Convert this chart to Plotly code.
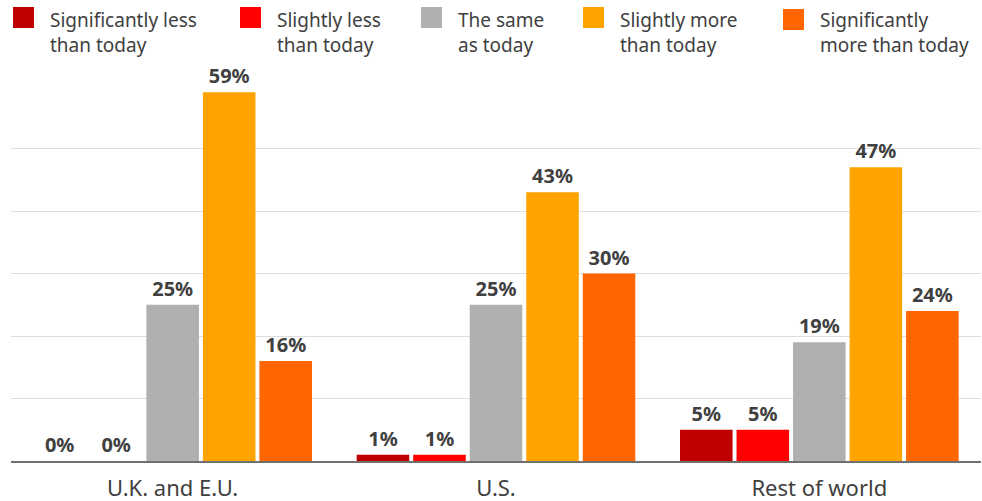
import plotly.graph_objects as go

categories = ["U.K. and E.U.", "U.S.", "Rest of world"]
series_names = [
    "Significantly less<br>than today",
    "Slightly less<br>than today",
    "The same<br>as today",
    "Slightly more<br>than today",
    "Significantly<br>more than today",
]
series_values = [
    [0, 1, 5],
    [0, 1, 5],
    [25, 25, 19],
    [59, 43, 47],
    [16, 30, 24],
]
colors = ["#bf0000", "#ff0000", "#b0b0b0", "#ffa300", "#ff6600"]

W, H = 982, 501
ml, mr, mt, mb = 11, 1, 86, 40
text_color = "#404040"
font_family = "Noto Sans"

fig = go.Figure()
for name, vals, col in zip(series_names, series_values, colors):
    fig.add_trace(go.Bar(
        x=categories, y=vals, name=name.replace("<br>", " "),
        marker=dict(color=col, line=dict(width=0)),
        text=[f"{v}%" for v in vals], textposition="outside",
        textfont=dict(family=font_family, size=20, color=text_color, weight="bold"),
        cliponaxis=False, showlegend=False,
        hovertemplate="%{x}: %{y}%<extra>" + name.replace("<br>", " ") + "</extra>",
    ))

# manual legend (swatches + labels), positions in pixels
legend_x = [13, 240, 421, 583, 783]
shapes = []
annotations = []
pw = W - ml - mr
ph = H - mt - mb
for i, (name, col) in enumerate(zip(series_names, colors)):
    x0 = legend_x[i]
    y0 = 7 if i < 4 else 9
    shapes.append(dict(type="rect", xref="paper", yref="paper",
                       x0=(x0 - ml) / pw, x1=(x0 + 21 - ml) / pw,
                       y0=1 + (mt - y0) / ph, y1=1 + (mt - y0 - 21) / ph,
                       fillcolor=col, line=dict(width=0), layer="above"))
    annotations.append(dict(xref="paper", yref="paper",
                            x=(x0 + 35 - ml) / pw, y=1 + (mt - 5) / ph,
                            xanchor="left", yanchor="top", align="left", showarrow=False,
                            text=name, font=dict(family=font_family, size=19, color=text_color)))

fig.update_layout(
    width=W, height=H,
    margin=dict(l=ml, r=mr, t=mt, b=mb, autoexpand=False),
    paper_bgcolor="white", plot_bgcolor="white",
    barmode="group", bargap=0.126, bargroupgap=0.07,
    font=dict(family=font_family, color=text_color),
    shapes=shapes, annotations=annotations,
    xaxis=dict(showgrid=False, showline=True, linecolor="#707070", linewidth=2,
               ticks="", automargin=False, ticklabelstandoff=7,
               tickfont=dict(family=font_family, size=22, color=text_color)),
    yaxis=dict(range=[0, 60], dtick=10, showticklabels=False, showgrid=True,
               automargin=False,
               gridcolor="#dddddd", gridwidth=1, zeroline=False, showline=False),
)

fig.write_html(
    "out.html",
    config={"displayModeBar": False},
    post_script="document.body.style.margin='0';document.body.style.overflow='hidden';",
)
